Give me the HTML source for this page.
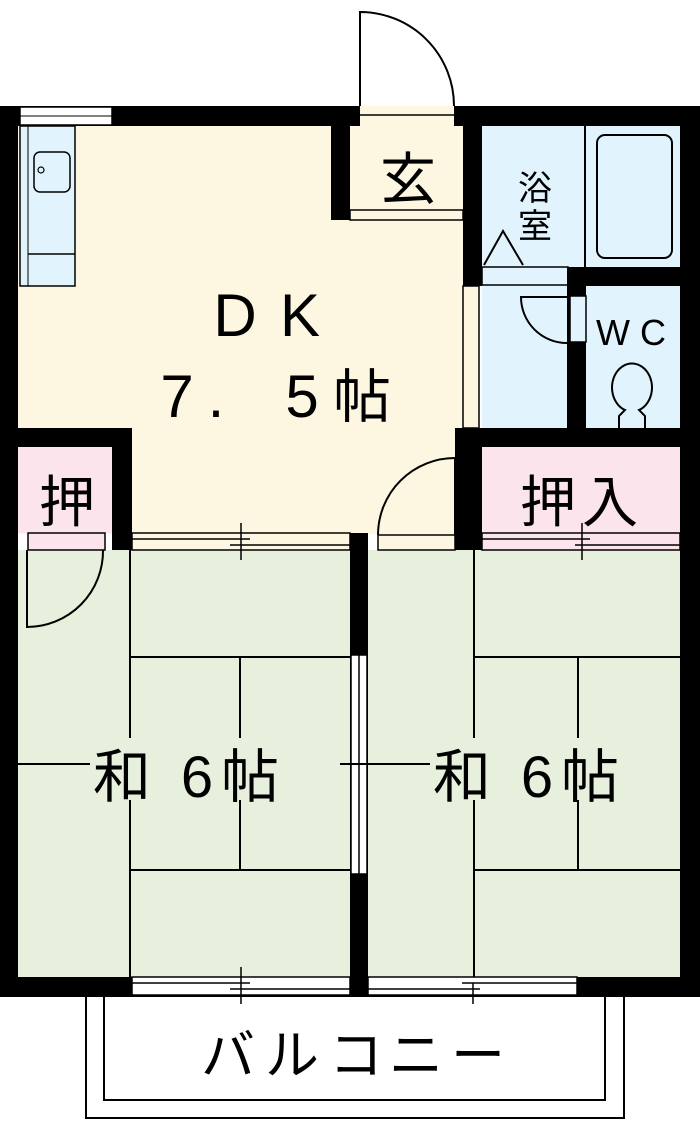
<!DOCTYPE html>
<html><head><meta charset="utf-8"><style>
html,body{margin:0;padding:0;background:#fff}
svg{display:block}
text{font-family:"Liberation Sans","Noto Sans CJK JP",sans-serif;fill:#000}
</style></head><body>
<svg width="700" height="1131" viewBox="0 0 700 1131" xmlns="http://www.w3.org/2000/svg">
<rect width="700" height="1131" fill="#fff"/>
<rect x="18" y="126" width="449" height="408" fill="#fdf7e1"/>
<rect x="482" y="126" width="198" height="302" fill="#e1f3fc"/>
<rect x="18" y="447" width="94" height="86" fill="#fce4ec"/>
<rect x="482" y="447" width="198" height="86" fill="#fce4ec"/>
<rect x="18" y="550" width="332" height="428" fill="#e6f0dd"/>
<rect x="368" y="550" width="312" height="428" fill="#e6f0dd"/>
<rect x="86" y="995" width="538" height="123" fill="none" stroke="#000" stroke-width="2"/>
<rect x="104" y="995" width="501" height="105" fill="#fff" stroke="#000" stroke-width="2"/>
<rect x="0" y="106" width="700" height="20" fill="#000"/>
<rect x="0" y="106" width="18" height="891" fill="#000"/>
<rect x="680" y="106" width="20" height="891" fill="#000"/>
<rect x="0" y="977" width="700" height="20" fill="#000"/>
<rect x="20" y="107" width="92" height="18" fill="#fff" stroke="#000" stroke-width="1.5"/>
<line x1="20" y1="116" x2="112" y2="116" stroke="#000" stroke-width="1"/>
<rect x="360" y="106" width="94" height="20" fill="#fdf7e1"/>
<line x1="360" y1="115" x2="454" y2="115" stroke="#000" stroke-width="1.5"/>
<path d="M360 106 L360 12 A94 94 0 0 1 454 106" fill="none" stroke="#000" stroke-width="2"/>
<rect x="331" y="126" width="19" height="94" fill="#000"/>
<rect x="350" y="210" width="113" height="10" fill="#fdf7e1" stroke="#000" stroke-width="1.5"/>
<text x="408" y="199" font-size="56" text-anchor="middle">玄</text>
<rect x="20" y="126" width="55" height="160" fill="#e1f3fc" stroke="#000" stroke-width="1.5"/>
<line x1="28" y1="126" x2="28" y2="286" stroke="#000" stroke-width="1"/>
<line x1="28" y1="254" x2="75" y2="254" stroke="#000" stroke-width="1.5"/>
<rect x="34" y="152" width="36" height="40" rx="6" fill="none" stroke="#000" stroke-width="1.5"/>
<circle cx="41" cy="170" r="3" fill="none" stroke="#000" stroke-width="1.2"/>
<rect x="463" y="106" width="19" height="180" fill="#000"/>
<rect x="463" y="286" width="16" height="142" fill="#fdf7e1" stroke="#000" stroke-width="1.5"/>
<line x1="585" y1="126" x2="585" y2="268" stroke="#000" stroke-width="2"/>
<rect x="597" y="135" width="75" height="123" rx="8" fill="none" stroke="#000" stroke-width="2"/>
<rect x="482" y="267" width="86" height="18" fill="#e1f3fc" stroke="#000" stroke-width="1.5"/>
<path d="M484 265 L503 231 L523 265" fill="none" stroke="#000" stroke-width="2"/>
<text x="535" y="200" font-size="34" text-anchor="middle">浴</text>
<text x="535" y="238" font-size="34" text-anchor="middle">室</text>
<rect x="567" y="267" width="113" height="19" fill="#000"/>
<rect x="567" y="267" width="19" height="161" fill="#000"/>
<rect x="570" y="296" width="16" height="46" fill="#e1f3fc" stroke="#000" stroke-width="1.5"/>
<path d="M567 343 A46 46 0 0 1 521 297 L567 297" fill="none" stroke="#000" stroke-width="2"/>
<text x="613" y="345" font-size="36" text-anchor="middle">W</text>
<text x="653" y="345" font-size="36" text-anchor="middle">C</text>
<path d="M619 428 L619 416 L625 410 A20 24 0 1 1 639 410 L645 416 L645 428" fill="none" stroke="#000" stroke-width="2"/>
<rect x="463" y="428" width="237" height="19" fill="#000"/>
<rect x="455" y="428" width="27" height="122" fill="#000"/>
<rect x="0" y="428" width="132" height="19" fill="#000"/>
<rect x="112" y="428" width="20" height="122" fill="#000"/>
<text x="67" y="522" font-size="56" text-anchor="middle">押</text>
<text x="548" y="522" font-size="56" text-anchor="middle">押</text>
<text x="610" y="522" font-size="56" text-anchor="middle">入</text>
<text x="235" y="336" font-size="60" text-anchor="middle">D</text>
<text x="300" y="336" font-size="60" text-anchor="middle">K</text>
<text x="177" y="417" font-size="60" text-anchor="middle">7</text>
<text x="216" y="417" font-size="60" text-anchor="middle">.</text>
<text x="302" y="417" font-size="60" text-anchor="middle">5</text>
<text x="362" y="417" font-size="58" text-anchor="middle">帖</text>
<path d="M455 535 L455 458 A77 77 0 0 0 378 535" fill="none" stroke="#000" stroke-width="2"/>
<rect x="378" y="535" width="77" height="15" fill="#fdf7e1" stroke="#000" stroke-width="1.5"/>
<g stroke="#000" stroke-width="1.5" fill="none">
<rect x="28" y="533" width="77" height="17" fill="#fce4ec"/>
<rect x="132" y="533" width="218" height="17" fill="#fdf7e1"/>
<line x1="132" y1="539" x2="250" y2="539"/><line x1="230" y1="545" x2="350" y2="545"/>
<line x1="241" y1="523" x2="241" y2="560"/>
<rect x="482" y="533" width="198" height="17" fill="#fce4ec"/>
<line x1="482" y1="539" x2="590" y2="539"/><line x1="575" y1="545" x2="680" y2="545"/>
<line x1="582" y1="523" x2="582" y2="560"/>
</g>
<rect x="350" y="533" width="18" height="17" fill="#000"/>
<rect x="350" y="550" width="18" height="447" fill="#000"/>
<rect x="351" y="655" width="16" height="219" fill="#fff" stroke="#000" stroke-width="1.5"/>
<line x1="359" y1="655" x2="359" y2="874" stroke="#000" stroke-width="1.5"/>
<path d="M27 550 L27 627 A76 76 0 0 0 103 550" fill="none" stroke="#000" stroke-width="2"/>
<g stroke="#000" stroke-width="2" fill="none">
<line x1="130" y1="550" x2="130" y2="977"/>
<line x1="130" y1="657" x2="350" y2="657"/>
<line x1="130" y1="870" x2="350" y2="870"/>
<line x1="240" y1="657" x2="240" y2="870"/>
<line x1="18" y1="764" x2="90" y2="764"/>
<line x1="474" y1="550" x2="474" y2="977"/>
<line x1="474" y1="657" x2="680" y2="657"/>
<line x1="474" y1="870" x2="680" y2="870"/>
<line x1="578" y1="657" x2="578" y2="870"/>
<line x1="340" y1="764" x2="430" y2="764"/>
</g>
<rect x="92" y="738" width="186" height="62" fill="#e6f0dd"/>
<rect x="432" y="738" width="186" height="62" fill="#e6f0dd"/>
<g font-size="58" text-anchor="middle">
<text x="122" y="797">和</text><text x="197" y="797">6</text><text x="250" y="797">帖</text>
<text x="462" y="797">和</text><text x="537" y="797">6</text><text x="590" y="797">帖</text>
</g>
<g stroke="#000" stroke-width="1.5" fill="#fff">
<rect x="132" y="977" width="218" height="18"/>
<rect x="368" y="977" width="209" height="18"/>
</g>
<g stroke="#000" stroke-width="1.5">
<line x1="132" y1="983" x2="250" y2="983"/><line x1="230" y1="989" x2="350" y2="989"/>
<line x1="241" y1="967" x2="241" y2="1004"/>
<line x1="368" y1="989" x2="480" y2="989"/><line x1="462" y1="983" x2="577" y2="983"/>
<line x1="473" y1="983" x2="473" y2="1004"/>
</g>
<g font-size="54" text-anchor="middle">
<text x="228" y="1074">バ</text><text x="292" y="1074">ル</text><text x="356" y="1074">コ</text><text x="416" y="1074">ニ</text><text x="478" y="1074">ー</text>
</g>
</svg>
</body></html>
